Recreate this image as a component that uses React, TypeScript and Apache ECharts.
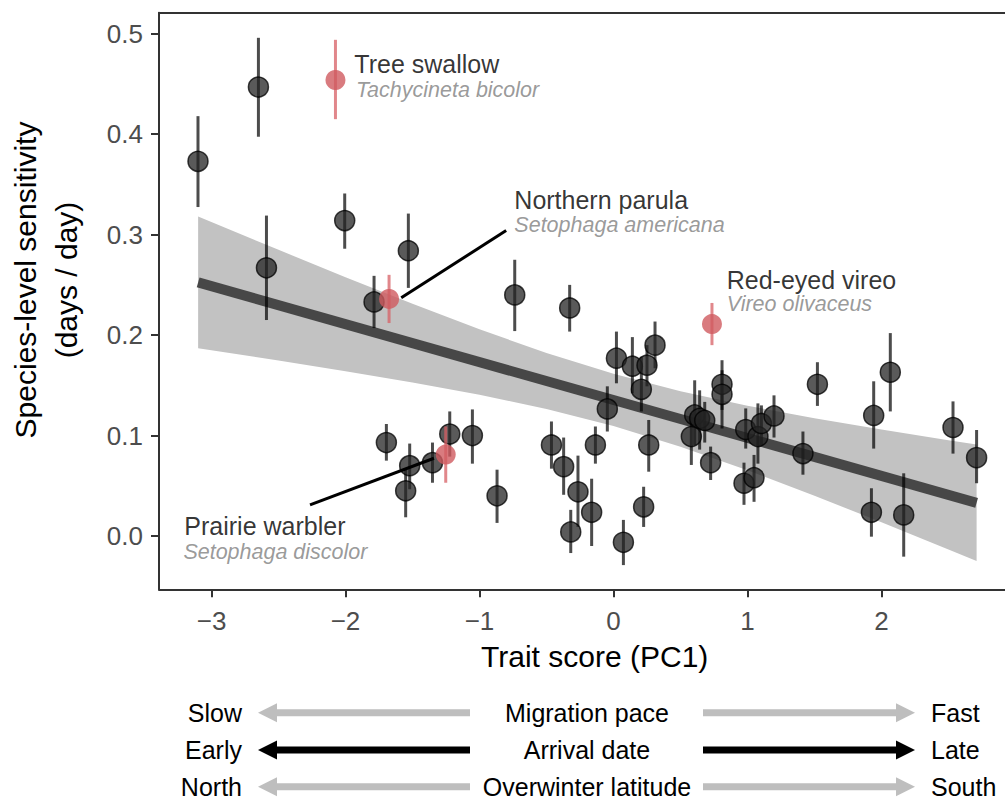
import React, { useEffect, useRef } from "react";
import * as echarts from "echarts";

// ---- species-level estimates (dark points) ----
const traitX = [-3.101, -2.65, -2.006, -2.59, -1.531, -1.787, -0.737, -0.327, -1.695, -1.521, -1.551, -1.351, -1.222, -1.053, -0.869, -0.463, -0.372, -0.265, -0.319, -0.163, -0.135, 0.022, 0.141, 0.25, 0.31, 0.208, -0.046, 0.263, 0.225, 0.074, 0.606, 0.643, 0.681, 0.581, 0.81, 0.81, 0.725, 0.987, 1.078, 1.104, 1.198, 0.974, 1.049, 1.414, 1.522, 2.066, 1.942, 2.534, 2.71, 1.925, 2.166];
const sens = [0.373, 0.447, 0.314, 0.267, 0.284, 0.233, 0.24, 0.227, 0.093, 0.07, 0.045, 0.073, 0.1015, 0.1, 0.04, 0.0906, 0.069, 0.044, 0.004, 0.0236, 0.0906, 0.177, 0.169, 0.17, 0.19, 0.146, 0.1265, 0.0906, 0.029, -0.0063, 0.1205, 0.117, 0.115, 0.099, 0.151, 0.141, 0.073, 0.106, 0.099, 0.112, 0.1195, 0.0525, 0.058, 0.082, 0.151, 0.163, 0.12, 0.108, 0.078, 0.0236, 0.021];
const sensLo = [0.3275, 0.3975, 0.286, 0.215, 0.247, 0.207, 0.204, 0.2035, 0.075, 0.0465, 0.0186, 0.053, 0.079, 0.072, 0.013, 0.067, 0.041, 0.009, -0.017, -0.01, 0.072, 0.152, 0.142, 0.149, 0.167, 0.124, 0.104, 0.064, 0.009, -0.029, 0.0906, 0.086, 0.093, 0.0707, 0.1255, 0.107, 0.0557, 0.087, 0.072, 0.0906, 0.098, 0.031, 0.034, 0.061, 0.1295, 0.124, 0.087, 0.082, 0.0525, -0.0007, -0.0206];
const sensHi = [0.418, 0.496, 0.341, 0.319, 0.321, 0.259, 0.275, 0.25, 0.1115, 0.092, 0.066, 0.093, 0.124, 0.126, 0.066, 0.114, 0.098, 0.08, 0.026, 0.057, 0.109, 0.2035, 0.198, 0.19, 0.2135, 0.1785, 0.149, 0.1155, 0.049, 0.016, 0.155, 0.145, 0.1335, 0.122, 0.175, 0.165, 0.089, 0.127, 0.132, 0.13, 0.14, 0.073, 0.0807, 0.104, 0.173, 0.202, 0.154, 0.134, 0.1055, 0.0475, 0.0624];

// ---- highlighted species (red) ----
const hlNames = ["Tree swallow", "Northern parula", "Prairie warbler", "Red-eyed vireo"];
const hlLatin = ["Tachycineta bicolor", "Setophaga americana", "Setophaga discolor", "Vireo olivaceus"];
const hlX = [-2.075, -1.675, -1.252, 0.735];
const hlY = [0.454, 0.236, 0.081, 0.211];
const hlLo = [0.415, 0.212, 0.053, 0.19];
const hlHi = [0.494, 0.26, 0.109, 0.232];

// label anchor positions (data units) for names and latin names
const nameX = [-1.934, -0.74, -3.203, 0.845];
const nameY = [0.47, 0.335, 0.0097, 0.2553];
const latinX = [-1.922, -0.74, -3.21, 0.845];
const latinY = [0.4437, 0.31, -0.0162, 0.231];

// leader lines (data units)
const leaderParula = [[-0.801, 0.3041], [-1.584, 0.2372]];
const leaderPrairie = [[-2.265, 0.0309], [-1.34, 0.0774]];

// ---- fitted regression and confidence band ----
const fitX = [-3.1, 2.71];
const fitY = [0.2525, 0.033];
const bandX = [-3.1, -2.5, -2.0, -1.5, -1.0, -0.5, 0, 0.5, 1.0, 1.5, 2.0, 2.5, 2.71];
const bandLo = [0.187, 0.1747, 0.1641, 0.1529, 0.1406, 0.1265, 0.1094, 0.0889, 0.0655, 0.0401, 0.0136, -0.0135, -0.025];
const bandHi = [0.318, 0.2849, 0.2577, 0.2313, 0.2058, 0.1821, 0.1614, 0.1441, 0.1297, 0.1173, 0.106, 0.0953, 0.091];

// ---- axes ----
const xTicks = [-3, -2, -1, 0, 1, 2];
const yTicks = [0, 0.1, 0.2, 0.3, 0.4, 0.5];
const xMin = -3.392;
const xMax = 2.922;
const yMin = -0.0531;
const yMax = 0.521;

// ---- arrow legend ----
const legendMid = ["Migration pace", "Arrival date", "Overwinter latitude"];
const legendLeft = ["Slow", "Early", "North"];
const legendRight = ["Fast", "Late", "South"];
const legendColors = ["#bebebe", "#000000", "#bebebe"];

const FONT = "'Liberation Sans', Arial, Helvetica, sans-serif";

export default function App() {
  const ref = useRef<HTMLDivElement>(null);

  useEffect(() => {
    if (!ref.current) return;
    const chart = echarts.init(ref.current, null, { renderer: "svg" });

    const minusFmt = (v: number) => (v < 0 ? "\u2212" + Math.abs(v) : String(v));

    const legendGraphics: any[] = [];
    const rowY = [712.7, 750, 786.7];
    rowY.forEach((y, i) => {
      const c = legendColors[i];
      legendGraphics.push(
        { type: "text", style: { text: legendLeft[i], x: 242, y, fill: "#000", fontSize: 25, fontFamily: FONT, textAlign: "right", textVerticalAlign: "middle", align: "right", verticalAlign: "middle" } },
        { type: "line", shape: { x1: 272, y1: y, x2: 470, y2: y }, style: { stroke: c, lineWidth: 7 } },
        { type: "polygon", shape: { points: [[258, y], [277, y - 9.5], [277, y + 9.5]] }, style: { fill: c } },
        { type: "text", style: { text: legendMid[i], x: 587, y, fill: "#000", fontSize: 25, fontFamily: FONT, textAlign: "center", textVerticalAlign: "middle", align: "center", verticalAlign: "middle" } },
        { type: "line", shape: { x1: 703, y1: y, x2: 901, y2: y }, style: { stroke: c, lineWidth: 7 } },
        { type: "polygon", shape: { points: [[915, y], [896, y - 9.5], [896, y + 9.5]] }, style: { fill: c } },
        { type: "text", style: { text: legendRight[i], x: 931, y, fill: "#000", fontSize: 25, fontFamily: FONT, textAlign: "left", textVerticalAlign: "middle", align: "left", verticalAlign: "middle" } }
      );
    });

    const labelData: any[] = [];
    hlNames.forEach((n, i) => {
      labelData.push({
        value: [nameX[i], nameY[i]],
        label: { formatter: n, fontSize: 25, color: "#000", fontStyle: "normal" },
      });
      labelData.push({
        value: [latinX[i], latinY[i]],
        label: { formatter: hlLatin[i], fontSize: 21.5, color: "#808080", fontStyle: "italic" },
      });
    });

    const axisLineStyle = { color: "#333", width: 2 };

    const option: any = {
      animation: false,
      grid: { left: 159, top: 12.7, right: 0, bottom: 213.7, show: false },
      xAxis: [
        {
          type: "value",
          min: xMin,
          max: xMax,
          splitLine: { show: false },
          axisLine: { show: true, onZero: false, lineStyle: axisLineStyle },
          axisTick: { show: true, length: 8, lineStyle: axisLineStyle, customValues: xTicks },
          axisLabel: { customValues: xTicks, formatter: minusFmt, fontSize: 26, color: "#4d4d4d", margin: 19, fontFamily: FONT },
        },
        {
          type: "value",
          position: "top",
          min: xMin,
          max: xMax,
          splitLine: { show: false },
          axisLine: { show: true, onZero: false, lineStyle: axisLineStyle },
          axisTick: { show: false },
          axisLabel: { show: false },
        },
      ],
      yAxis: {
        type: "value",
        min: yMin,
        max: yMax,
        splitLine: { show: false },
        axisLine: { show: true, onZero: false, lineStyle: axisLineStyle },
        axisTick: { show: true, length: 8, lineStyle: axisLineStyle, customValues: yTicks },
        axisLabel: { customValues: yTicks, formatter: (v: number) => v.toFixed(1), fontSize: 26, color: "#4d4d4d", margin: 16, fontFamily: FONT },
      },
      graphic: [
        { type: "text", style: { text: "Trait score (PC1)", x: 594.7, y: 656, fill: "#000", fontSize: 30, fontFamily: FONT, textAlign: "center", textVerticalAlign: "middle", align: "center", verticalAlign: "middle" } },
        { type: "text", x: 46, y: 280, rotation: Math.PI / 2, style: { text: "Species-level sensitivity\n(days / day)", x: 0, y: 0, fill: "#000", fontSize: 30, lineHeight: 41.5, fontFamily: FONT, textAlign: "center", textVerticalAlign: "middle", align: "center", verticalAlign: "middle" } },
        ...legendGraphics,
      ],
      series: [
        {
          type: "custom",
          z: 1,
          silent: true,
          data: [[0, 0.1]],
          renderItem: (_p: any, api: any) => {
            const pts: number[][] = [];
            bandX.forEach((x, i) => pts.push(api.coord([x, bandHi[i]])));
            for (let i = bandX.length - 1; i >= 0; i--) pts.push(api.coord([bandX[i], bandLo[i]]));
            return { type: "polygon", shape: { points: pts }, style: { fill: "#c2c2c2" } };
          },
        },
        {
          type: "line",
          z: 2,
          data: fitX.map((x, i) => [x, fitY[i]]),
          symbol: "none",
          lineStyle: { color: "#474747", width: 10 },
        },
        {
          type: "custom",
          z: 3,
          data: traitX.map((x, i) => [x, sensLo[i], sensHi[i]]),
          renderItem: (_p: any, api: any) => {
            const a = api.coord([api.value(0), api.value(1)]);
            const b = api.coord([api.value(0), api.value(2)]);
            return { type: "line", shape: { x1: a[0], y1: a[1], x2: b[0], y2: b[1] }, style: { stroke: "rgba(0,0,0,0.7)", lineWidth: 3 } };
          },
        },
        {
          type: "scatter",
          z: 4,
          data: traitX.map((x, i) => [x, sens[i]]),
          symbolSize: 20,
          itemStyle: { color: "#232323", borderColor: "#000", borderWidth: 1.5, opacity: 0.75 },
        },
        {
          type: "line",
          z: 5,
          data: leaderParula,
          symbol: "none",
          lineStyle: { color: "#000", width: 3 },
        },
        {
          type: "line",
          z: 5,
          data: leaderPrairie,
          symbol: "none",
          lineStyle: { color: "#000", width: 3 },
        },
        {
          type: "custom",
          z: 6,
          data: hlX.map((x, i) => [x, hlLo[i], hlHi[i]]),
          renderItem: (_p: any, api: any) => {
            const a = api.coord([api.value(0), api.value(1)]);
            const b = api.coord([api.value(0), api.value(2)]);
            return { type: "line", shape: { x1: a[0], y1: a[1], x2: b[0], y2: b[1] }, style: { stroke: "rgba(215,95,100,0.75)", lineWidth: 3 } };
          },
        },
        {
          type: "scatter",
          z: 7,
          data: hlX.map((x, i) => [x, hlY[i]]),
          symbolSize: 20,
          itemStyle: { color: "#cf5a5f", opacity: 0.8 },
        },
        {
          type: "scatter",
          z: 8,
          silent: true,
          data: labelData,
          symbolSize: 0.001,
          itemStyle: { color: "transparent" },
          label: { show: true, position: [0, 0], align: "left", verticalAlign: "middle", fontFamily: FONT },
        },
      ],
    };

    chart.setOption(option);
    return () => chart.dispose();
  }, []);

  return <div ref={ref} style={{ position: "absolute", left: 0, top: 0, width: 1005, height: 803 }} />;
}
